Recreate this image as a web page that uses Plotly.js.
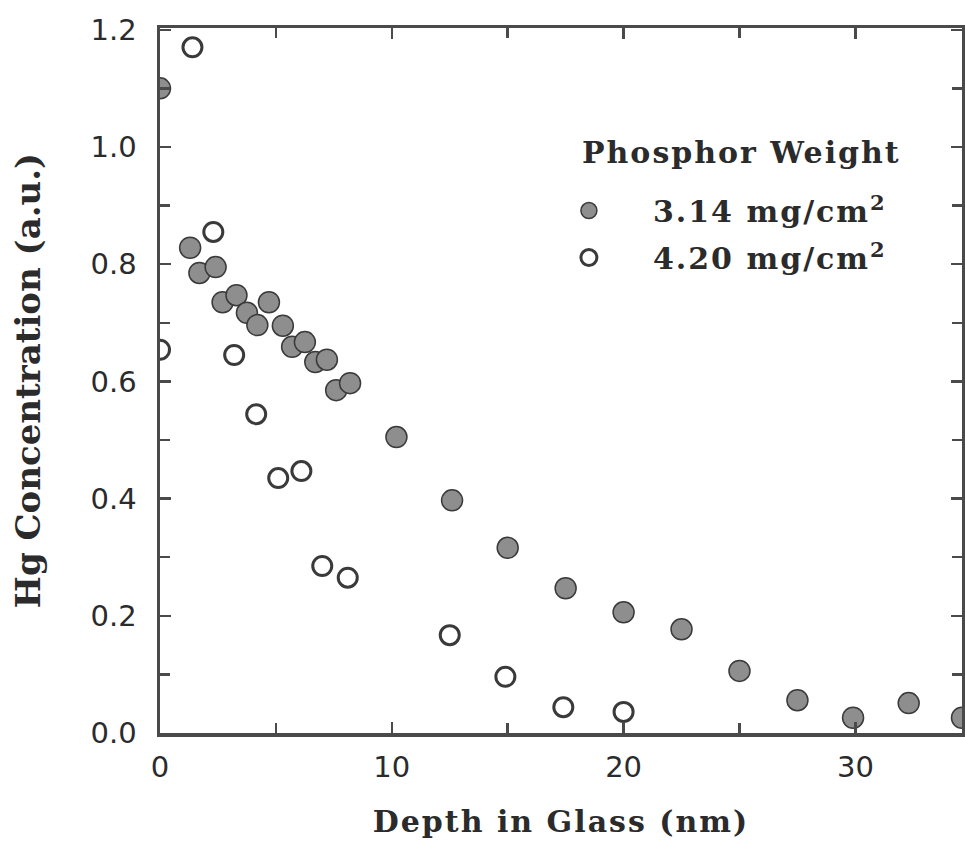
<!DOCTYPE html>
<html>
<head>
<meta charset="utf-8">
<script src="https://cdn.plot.ly/plotly-3.0.1.min.js"></script>
<style>
  html, body { margin: 0; padding: 0; background: #ffffff; }
  #chart { width: 965px; height: 845px; }
  /* wide slab lettering for titles and legend (global so text measuring sees it too) */
  .legendtext, .xtitle, .annotation-text { letter-spacing: 2px; }
</style>
</head>
<body>
<div id="chart"></div>
<script>
// Hg depth profiles in glass for two phosphor coating weights
const depthA = [0.0, 1.3, 1.7, 2.4, 2.7, 3.3, 3.75, 4.2, 4.7, 5.3, 5.7, 6.25, 6.7, 7.2, 7.6, 8.2,
                10.2, 12.6, 15.0, 17.5, 20.0, 22.5, 25.0, 27.5, 29.9, 32.3, 34.6];
const concA  = [1.10, 0.828, 0.785, 0.795, 0.735, 0.747, 0.717, 0.696, 0.735, 0.695, 0.659, 0.667,
                0.633, 0.637, 0.585, 0.597, 0.505, 0.397, 0.316, 0.247, 0.206, 0.177, 0.106,
                0.056, 0.026, 0.051, 0.026];

const depthB = [0.0, 1.4, 2.3, 3.2, 4.15, 5.1, 6.1, 7.0, 8.1, 12.5, 14.9, 17.4, 20.0];
const concB  = [0.654, 1.17, 0.855, 0.645, 0.544, 0.435, 0.447, 0.285, 0.265, 0.167, 0.096, 0.044, 0.036];

const seriesNames = ['3.14 mg/cm<sup>2</sup>', '4.20 mg/cm<sup>2</sup>'];
const legendTitle = 'Phosphor Weight';
const xTitle = 'Depth in Glass (nm)';
const yTitle = 'Hg Concentration (a.u.)';

const ink = '#2b2b2b';
const frame = '#4a4a4a';
const serif = 'DejaVu Serif, serif';
const sans = 'DejaVu Sans, sans-serif';

const traces = [
  {
    x: depthA, y: concA, name: seriesNames[0], type: 'scatter', mode: 'markers',
    legendgroup: 'a', cliponaxis: true,
    marker: { symbol: 'circle', size: 21, color: '#8e8e8e', line: { color: '#3a3a3a', width: 1.5 } }
  },
  {
    x: depthB, y: concB, name: seriesNames[1], type: 'scatter', mode: 'markers',
    legendgroup: 'b', cliponaxis: true,
    marker: { symbol: 'circle', size: 19, color: '#ffffff', line: { color: '#3a3a3a', width: 3 } }
  }
];

const axisCommon = {
  showline: true, linecolor: frame, linewidth: 3.5, mirror: 'allticks',
  ticks: 'inside', ticklen: 11, tickwidth: 2.5, tickcolor: frame,
  showgrid: false, zeroline: false,
  tickfont: { family: sans, size: 29, color: ink }
};

const layout = {
  width: 965, height: 845,
  paper_bgcolor: '#ffffff', plot_bgcolor: '#ffffff',
  margin: { l: 160, r: 3, t: 28, b: 112 },
  showlegend: true,
  xaxis: Object.assign({}, axisCommon, {
    range: [0, 34.6], dtick: 10, tick0: 0,
    minor: { dtick: 5, ticks: 'inside', ticklen: 10, tickwidth: 2.5, tickcolor: frame },
    ticklabelstandoff: 6,
    title: { text: xTitle, font: { family: serif, size: 30, color: ink, weight: 'bold' }, standoff: 28 }
  }),
  yaxis: Object.assign({}, axisCommon, {
    range: [0, 1.203], dtick: 0.2, tick0: 0, tickformat: '.1f',
    minor: { dtick: 0.1, ticks: 'inside', ticklen: 10, tickwidth: 2.5, tickcolor: frame },
    ticklabelstandoff: 14,
    title: { text: yTitle, font: { family: serif, size: 34, color: ink, weight: 'bold' }, standoff: 40 }
  }),
  legend: {
    x: 0.455, y: 0.778, xanchor: 'left', yanchor: 'top',
    bgcolor: 'rgba(0,0,0,0)', borderwidth: 0,
    traceorder: 'grouped', tracegroupgap: 5,
    itemwidth: 118,
    font: { family: serif, size: 30, color: ink, weight: 'bold' }
  },
  annotations: [
    {
      text: legendTitle, xref: 'paper', yref: 'paper', x: 0.524, y: 0.824,
      xanchor: 'left', yanchor: 'middle', showarrow: false,
      font: { family: serif, size: 30, color: ink, weight: 'bold' }
    }
  ]
};

Plotly.newPlot('chart', traces, layout, { displayModeBar: false, staticPlot: true });
</script>
</body>
</html>
